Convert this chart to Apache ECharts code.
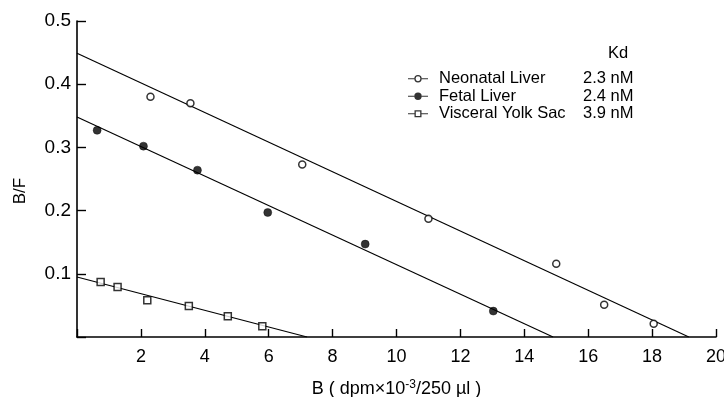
<!DOCTYPE html>
<html>
<head>
<meta charset="utf-8">
<script src="https://cdn.jsdelivr.net/npm/echarts@6/dist/echarts.min.js"></script>
<style>
  html, body { margin: 0; padding: 0; background: #fff; }
  #chart { width: 724px; height: 397px; }
</style>
</head>
<body>
<div id="chart"></div>
<script>
// Scatchard plot data
const seriesNames = ["Neonatal Liver", "Fetal Liver", "Visceral Yolk Sac"];
const kdLabels = ["2.3 nM", "2.4 nM", "3.9 nM"];

const neonatalPoints = [[2.3, 0.38], [3.55, 0.37], [7.05, 0.273], [11.0, 0.187], [15.0, 0.116], [16.5, 0.051], [18.05, 0.021]];
const fetalPoints = [[0.63, 0.327], [2.08, 0.302], [3.77, 0.264], [5.97, 0.197], [9.02, 0.147], [13.03, 0.041]];
const yolkSacPoints = [[0.74, 0.087], [1.27, 0.079], [2.2, 0.058], [3.5, 0.049], [4.72, 0.033], [5.8, 0.017]];

// fitted lines (intercepts)
const neonatalLine = [[0, 0.449], [19.15, 0]];
const fetalLine = [[0, 0.348], [14.9, 0]];
const yolkSacLine = [[0, 0.095], [7.2, 0]];

const xTicks = { min: 0, max: 20, interval: 2 };
const yTicks = { min: 0, max: 0.5, interval: 0.1 };

const FONT = "Liberation Sans";

// legend icons: short line with marker in the middle
const iconOpenCircle = "path://M0,3.4H6.3V4.6H0Z M13.7,3.4H20V4.6H13.7Z M6.3,4A3.7,3.7 0 1,1 13.7,4A3.7,3.7 0 1,1 6.3,4Z M7.6,4A2.4,2.4 0 1,0 12.4,4A2.4,2.4 0 1,0 7.6,4Z";
const iconFilledCircle = "path://M0,3.4H6.3V4.6H0Z M13.7,3.4H20V4.6H13.7Z M6.3,4A3.7,3.7 0 1,1 13.7,4A3.7,3.7 0 1,1 6.3,4Z";
const iconOpenSquare = "path://M0,3.4H6.5V4.6H0Z M13.5,3.4H20V4.6H13.5Z M6.5,0.5H13.5V7.5H6.5Z M7.8,1.8V6.2H12.2V1.8Z";

const chart = echarts.init(document.getElementById("chart"));

const lineStyle = { color: "#000", width: 1.2 };

const option = {
  backgroundColor: "#fff",
  animation: false,
  textStyle: { fontFamily: FONT, color: "#000" },
  grid: { left: 77, right: 8, top: 21, bottom: 60, containLabel: false, outerBoundsMode: "none" },
  legend: {
    orient: "vertical",
    left: 403,
    top: 65,
    itemWidth: 20,
    itemHeight: 8,
    itemGap: 0,
    selectedMode: false,
    data: [
      { name: seriesNames[0], icon: iconOpenCircle },
      { name: seriesNames[1], icon: iconFilledCircle },
      { name: seriesNames[2], icon: iconOpenSquare }
    ],
    itemStyle: { color: "#000", borderWidth: 0 },
    formatter: (name) => `{n|${name}}{k|${kdLabels[seriesNames.indexOf(name)]}}`,
    textStyle: {
      fontFamily: FONT,
      fontSize: 16.5,
      color: "#000",
      lineHeight: 17.5,
      rich: {
        n: { width: 144, padding: [0, 0, 0, 6], fontSize: 16.5, fontFamily: FONT, color: "#000" },
        k: { fontSize: 16.5, fontFamily: FONT, color: "#000" }
      }
    }
  },
  graphic: [
    {
      type: "text",
      left: 608,
      top: 45,
      style: { text: "Kd", fontFamily: FONT, fontSize: 16.5, fill: "#000" }
    }
  ],
  xAxis: {
    type: "value",
    min: xTicks.min,
    max: xTicks.max,
    interval: xTicks.interval,
    name: "{t|B ( dpm×10}{s|-3}{t|/250 µl )}",
    nameLocation: "middle",
    nameGap: 42,
    nameTextStyle: {
      rich: {
        t: { fontFamily: FONT, fontSize: 18, color: "#000" },
        s: { fontFamily: FONT, fontSize: 12, color: "#000", verticalAlign: "top", padding: [0, 0, 8, 0] }
      }
    },
    axisLine: { lineStyle: { color: "#000", width: 1.6 } },
    axisTick: { inside: true, length: 8, lineStyle: { color: "#000", width: 1.4 } },
    axisLabel: {
      margin: 11,
      fontSize: 18,
      fontFamily: FONT,
      color: "#000",
      formatter: (v) => (v === 0 ? "" : String(v))
    },
    splitLine: { show: false }
  },
  yAxis: {
    type: "value",
    min: yTicks.min,
    max: yTicks.max,
    interval: yTicks.interval,
    name: "B/F",
    nameLocation: "middle",
    nameRotate: 90,
    nameGap: 48,
    nameTextStyle: { fontFamily: FONT, fontSize: 17, color: "#000", padding: [0, 24, 0, 0] },
    axisLine: { show: true, lineStyle: { color: "#000", width: 1.6 } },
    axisTick: { show: true, inside: true, length: 9, lineStyle: { color: "#000", width: 1.4 } },
    axisLabel: {
      margin: 6,
      fontSize: 19,
      fontFamily: FONT,
      color: "#000",
      formatter: (v) => (v === 0 ? "" : v.toFixed(1))
    },
    splitLine: { show: false }
  },
  series: [
    {
      name: "Neonatal fit",
      type: "line",
      data: neonatalLine,
      symbol: "none",
      lineStyle: lineStyle,
      silent: true
    },
    {
      name: "Fetal fit",
      type: "line",
      data: fetalLine,
      symbol: "none",
      lineStyle: lineStyle,
      silent: true
    },
    {
      name: "Yolk fit",
      type: "line",
      data: yolkSacLine,
      symbol: "none",
      lineStyle: lineStyle,
      silent: true
    },
    {
      name: seriesNames[0],
      type: "scatter",
      data: neonatalPoints,
      symbol: "circle",
      symbolSize: 7,
      itemStyle: { color: "#fff", borderColor: "#000", borderWidth: 1.5 },
      z: 5
    },
    {
      name: seriesNames[1],
      type: "scatter",
      data: fetalPoints,
      symbol: "circle",
      symbolSize: 8,
      itemStyle: { color: "#000", borderColor: "#000", borderWidth: 0.5 },
      z: 5
    },
    {
      name: seriesNames[2],
      type: "scatter",
      data: yolkSacPoints,
      symbol: "rect",
      symbolSize: 7,
      itemStyle: { color: "#fff", borderColor: "#000", borderWidth: 1.5 },
      z: 5
    }
  ]
};

chart.setOption(option);
</script>
</body>
</html>
